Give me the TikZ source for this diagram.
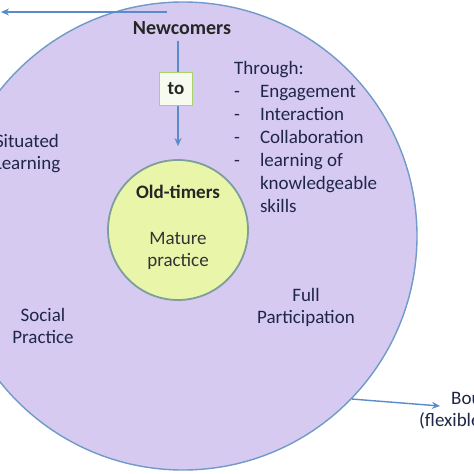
\documentclass[tikz,border=0pt]{standalone}
\usepackage{fontspec}
\setmainfont{Carlito}
\usetikzlibrary{arrows.meta}
\definecolor{lav}{HTML}{D6CAF1}
\definecolor{lavborder}{HTML}{6F9AC9}
\definecolor{inner}{HTML}{E9F5A9}
\definecolor{innerborder}{HTML}{7E9E9C}
\definecolor{arrowblue}{HTML}{5B8BC9}
\definecolor{txt}{HTML}{1F2647}
\definecolor{boxborder}{HTML}{A8D46A}
\definecolor{boxfill}{HTML}{F7FAEE}
\tikzset{
  lbl/.style={text=txt, font=\fontsize{19}{22}\selectfont, align=center, inner sep=0pt},
  boldlbl/.style={lbl, font=\fontsize{19}{22}\selectfont\bfseries, text=black!85},
  conn/.style={draw=arrowblue, line width=1.4pt, -{Stealth[length=8pt,width=7pt]}},
}
\begin{document}
\begin{tikzpicture}[x=1pt,y=-1pt]
\useasboundingbox (0,0) rectangle (474,474);
\clip (0,0) rectangle (474,474);
\fill[white] (0,0) rectangle (474,474);
% outer circle
\node[circle, draw=lavborder, line width=1.4pt, fill=lav, minimum size=468pt, inner sep=0pt] (big) at (183,236) {};
% inner circle
\node[circle, draw=innerborder, line width=1.8pt, fill=inner, minimum size=140pt, inner sep=0pt] (old) at (178,230) {};
% top arrow
\coordinate (tstart) at (167,12);
\coordinate (tend) at (1,12);
\draw[conn] (tstart) -- (tend);
% texts
\node[boldlbl, font=\fontsize{20}{22}\selectfont\bfseries] (newc) at (182,28) {Newcomers};
\node[boldlbl] (oldt) at (178,192) {Old-timers};
\node[lbl, text=black!80] (mature) at (178,251) {Mature\\practice};
\draw[conn, shorten >=13pt] (newc.south) ++(-4,6) coordinate (vstart) -- (vstart |- old.north);
\node[draw=boxborder, line width=1.8pt, fill=boxfill, minimum width=33pt, minimum height=33pt, inner sep=0pt, font=\fontsize{19}{22}\selectfont\bfseries, text=black!85] (to) at (176,89) {to};
\node[lbl] (sit) at (27,154) {Situated\\Learning};
\node[lbl] (soc) at (43,326) {Social\\Practice};
\node[lbl] (full) at (306,307) {Full\\Participation};
\node[anchor=north west, inner sep=0pt, text=txt, font=\fontsize{19}{23}\selectfont] (through) at (234,58.5) {%
\begin{tabular}{@{}l@{\hspace{20pt}}l@{}}
\multicolumn{2}{@{}l@{}}{Through:}\\
- & Engagement\\
- & Interaction\\
- & Collaboration\\
- & learning of\\
 & knowledgeable\\
 & skills
\end{tabular}};
% boundary arrow
\coordinate (bend) at (440,406);
\draw[conn] (big.-44) -- (bend);
\node[lbl, anchor=west] (bound1) at (451,399) {Boundary};
\node[lbl, anchor=west] (bound2) at (419,421) {(flexible)};
\end{tikzpicture}
\end{document}
